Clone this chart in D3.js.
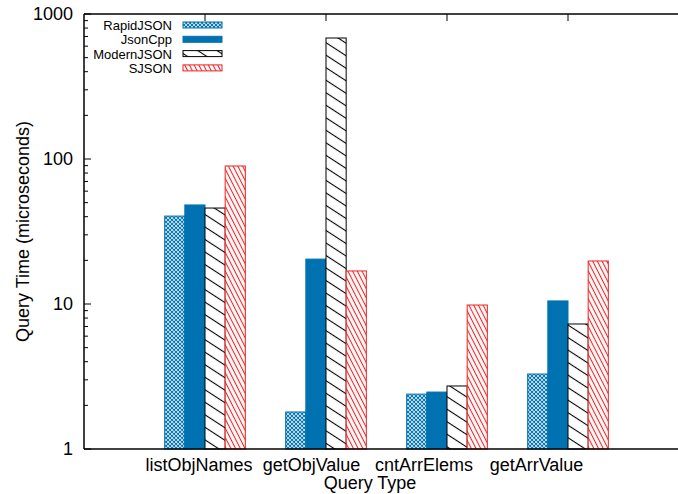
<!DOCTYPE html>
<html>
<head>
<meta charset="utf-8">
<script src="https://cdn.jsdelivr.net/npm/d3@7"></script>
<style>
  body { margin: 0; background: #fff; }
  text { font-family: "Liberation Sans", Arial, sans-serif; }
</style>
</head>
<body>
<script>
// data
var queries = ["listObjNames", "getObjValue", "cntArrElems", "getArrValue"];
var libs = ["RapidJSON", "JsonCpp", "ModernJSON", "SJSON"];
var rapidjson = [40.4, 1.8, 2.39, 3.29];
var jsoncpp = [48.2, 20.4, 2.47, 10.5];
var modernjson = [45.9, 683, 2.72, 7.28];
var sjson = [89.5, 16.9, 9.84, 19.8];
var yTicks = [1, 10, 100, 1000];

var series = [rapidjson, jsoncpp, modernjson, sjson];

var W = 678, H = 494;
var margin = {top: 14, left: 84, bottom: 45};

var svg = d3.select("body").append("svg")
    .attr("width", W)
    .attr("height", H);

var defs = svg.append("defs");

// crosshatch for RapidJSON
var p1 = defs.append("pattern").attr("id", "pat0")
    .attr("patternUnits", "userSpaceOnUse").attr("width", 4).attr("height", 4);
p1.append("rect").attr("width", 4).attr("height", 4).attr("fill", "#fff");
p1.append("path").attr("d", "M0,0L4,4M4,0L0,4M-1,1L1,-1M3,5L5,3M-1,3L1,5M3,-1L5,1")
    .attr("stroke", "#0072b2").attr("stroke-width", 1.1);

// diagonal hatches
function hatch(id, color, angle, gap) {
  var p = defs.append("pattern").attr("id", id)
      .attr("patternUnits", "userSpaceOnUse")
      .attr("width", 20).attr("height", gap)
      .attr("patternTransform", "rotate(" + angle + ")");
  p.append("rect").attr("width", 20).attr("height", gap).attr("fill", "#fff");
  p.append("line").attr("x1", 0).attr("x2", 20).attr("y1", gap / 2).attr("y2", gap / 2)
      .attr("stroke", color).attr("stroke-width", 1.1);
}
hatch("pat2", "#000", 33, 10.5);
hatch("pat3", "#ee2222", 63, 4.2);

var fills = ["url(#pat0)", "#0072b2", "url(#pat2)", "url(#pat3)"];
var strokes = ["#0072b2", "#0072b2", "#000", "#ee2222"];

// scales
var x = d3.scaleLinear().domain([-1, 4]).range([margin.left, margin.left + 5 * 121]);
var y = d3.scaleLog().domain([1, 1000]).range([H - margin.bottom, margin.top]);
var barW = 121 / 6;

// bars
series.forEach(function(vals, s) {
  svg.append("g").selectAll("rect")
    .data(vals)
    .join("rect")
    .attr("x", (d, i) => x(i) - 2 * barW + s * barW)
    .attr("y", d => y(d))
    .attr("width", barW)
    .attr("height", d => y(1) - y(d))
    .attr("fill", fills[s])
    .attr("stroke", strokes[s])
    .attr("stroke-width", 1);
});

// frame: left, bottom, top
var frame = svg.append("g").attr("stroke", "#000").attr("stroke-width", 1.5);
frame.append("line").attr("x1", margin.left).attr("x2", W + 20)
    .attr("y1", y(1)).attr("y2", y(1));
frame.append("line").attr("x1", margin.left).attr("x2", W + 20)
    .attr("y1", y(1000)).attr("y2", y(1000));
frame.append("line").attr("x1", margin.left).attr("x2", margin.left)
    .attr("y1", y(1)).attr("y2", y(1000));

// y ticks (major + minor, inward)
var minor = [];
yTicks.slice(0, -1).forEach(function(t) {
  for (var k = 2; k <= 9; k++) minor.push(t * k);
});
svg.append("g").selectAll("line.minor")
  .data(minor).join("line")
  .attr("x1", margin.left).attr("x2", margin.left + 4)
  .attr("y1", d => y(d)).attr("y2", d => y(d))
  .attr("stroke", "#000").attr("stroke-width", 1);
svg.append("g").selectAll("line.major")
  .data(yTicks).join("line")
  .attr("x1", margin.left).attr("x2", margin.left + 7)
  .attr("y1", d => y(d)).attr("y2", d => y(d))
  .attr("stroke", "#000").attr("stroke-width", 1);
svg.append("g").selectAll("text")
  .data(yTicks).join("text")
  .attr("x", margin.left - 11)
  .attr("y", d => y(d) + 6)
  .attr("text-anchor", "end")
  .style("font-size", "18px")
  .text(d => d);

// top x ticks
svg.append("g").selectAll("line")
  .data(queries).join("line")
  .attr("x1", (d, i) => x(i)).attr("x2", (d, i) => x(i))
  .attr("y1", y(1000)).attr("y2", y(1000) + 7)
  .attr("stroke", "#000").attr("stroke-width", 1);

// x labels
svg.append("g").selectAll("text")
  .data(queries).join("text")
  .attr("x", (d, i) => x(i) - 6 - 8.5 * i)
  .attr("y", y(1) + 22)
  .attr("text-anchor", "middle")
  .style("font-size", "18px")
  .text(d => d);

svg.append("text")
  .attr("x", 370).attr("y", H - 5)
  .attr("text-anchor", "middle")
  .style("font-size", "18px")
  .text("Query Type");

svg.append("text")
  .attr("transform", "translate(29," + (y(1) + y(1000)) / 2 + ") rotate(-90)")
  .attr("text-anchor", "middle")
  .style("font-size", "18px")
  .text("Query Time (microseconds)");

// legend
var leg = svg.append("g").selectAll("g")
  .data(libs).join("g")
  .attr("transform", (d, i) => "translate(0," + (25 + i * 14.3) + ")");
leg.append("text")
  .attr("x", 172).attr("y", 5)
  .attr("text-anchor", "end")
  .style("font-size", "13px")
  .text(d => d);
leg.append("rect")
  .attr("x", 183).attr("y", -3)
  .attr("width", 39).attr("height", 6)
  .attr("fill", (d, i) => fills[i])
  .attr("stroke", (d, i) => strokes[i])
  .attr("stroke-width", 1);
</script>
</body>
</html>
